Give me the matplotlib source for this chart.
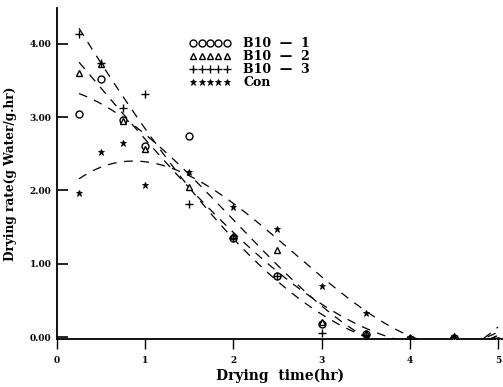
import numpy as np
import matplotlib
matplotlib.use("Agg")
import matplotlib.pyplot as plt
from matplotlib.lines import Line2D

# drying time (hr) and measured drying rate (g water / g.hr)
time_hr = [0.25, 0.5, 0.75, 1.0, 1.5, 2.0, 2.5, 3.0, 3.5, 4.0, 4.5, 5.0]
b10_1 = [3.05, 3.52, 2.96, 2.60, 2.74, 1.35, 0.83, 0.18, 0.04, -0.03, -0.02, -0.05]
b10_2 = [3.60, 3.72, 2.95, 2.57, 2.05, 1.38, 1.19, 0.20, 0.05, -0.02, -0.01, -0.05]
b10_3 = [4.13, 3.74, 3.12, 3.32, 1.82, 1.35, 0.83, 0.05, 0.03, -0.03, 0.00, -0.05]
con = [1.97, 2.53, 2.65, 2.07, 2.25, 1.77, 1.48, 0.70, 0.33, 0.00, 0.02, -0.05]

labels = ["B10  \u2014  1", "B10  \u2014  2", "B10  \u2014  3", "Con"]
x_ticks = [0, 1, 2, 3, 4, 5]
y_ticks = [0.0, 1.0, 2.0, 3.0, 4.0]

series = [b10_1, b10_2, b10_3, con]
markers = [dict(marker="o", ms=5, mfc="white", mec="black", mew=1.0),
           dict(marker="^", ms=5, mfc="white", mec="black", mew=1.0),
           dict(marker="+", ms=6, mec="black", mew=1.0),
           dict(marker="*", ms=5, mfc="black", mec="black", mew=0.6)]

plt.rcParams["font.family"] = "DejaVu Serif"
plt.rcParams["font.weight"] = "bold"

fig = plt.figure(figsize=(5.03, 3.87), dpi=100)
ax = fig.add_axes([57 / 503, 48 / 387, 446 / 503, 331 / 387])

t = np.array(time_hr)
tt = np.linspace(0.25, 5.0, 200)
for vals, mk in zip(series, markers):
    ax.plot(t, vals, linestyle="none", **mk, zorder=3)
    # cubic regression curve through each series
    coef = np.polyfit(t, vals, 3)
    ax.plot(tt, np.polyval(coef, tt), color="black", lw=0.9,
            dashes=(7, 6), zorder=2)

ax.set_xlim(0, 5.057)
ax.set_ylim(-0.027, 4.49)
ax.set_xticks(x_ticks)
ax.set_xticklabels([str(v) for v in x_ticks], fontsize=6.5, fontweight="bold")
ax.set_yticks(y_ticks)
ax.set_yticklabels(["%.2f" % v for v in y_ticks], fontsize=6.5, fontweight="bold")
ax.tick_params(axis="y", direction="in", length=8, width=1.2, pad=4)
ax.tick_params(axis="x", direction="out", length=7, width=1.0, pad=5)
ax.spines["top"].set_visible(False)
ax.spines["right"].set_visible(False)
ax.spines["left"].set_linewidth(1.3)
ax.spines["bottom"].set_linewidth(1.3)

ax.set_xlabel("Drying  time(hr)", fontsize=10, fontweight="bold", labelpad=3)
ax.set_ylabel("Drying rate(g Water/g.hr)", fontsize=8.7, fontweight="bold",
              labelpad=9)

handles = [Line2D([], [], linestyle="none", **mk) for mk in markers]
leg = ax.legend(handles, labels, loc="upper left", bbox_to_anchor=(0.28, 0.935),
                numpoints=5, handlelength=3.3, handletextpad=1.0,
                labelspacing=0.0, frameon=False, borderaxespad=0.2,
                prop={"size": 9, "weight": "bold"})

fig.savefig("out.png", dpi=100)
